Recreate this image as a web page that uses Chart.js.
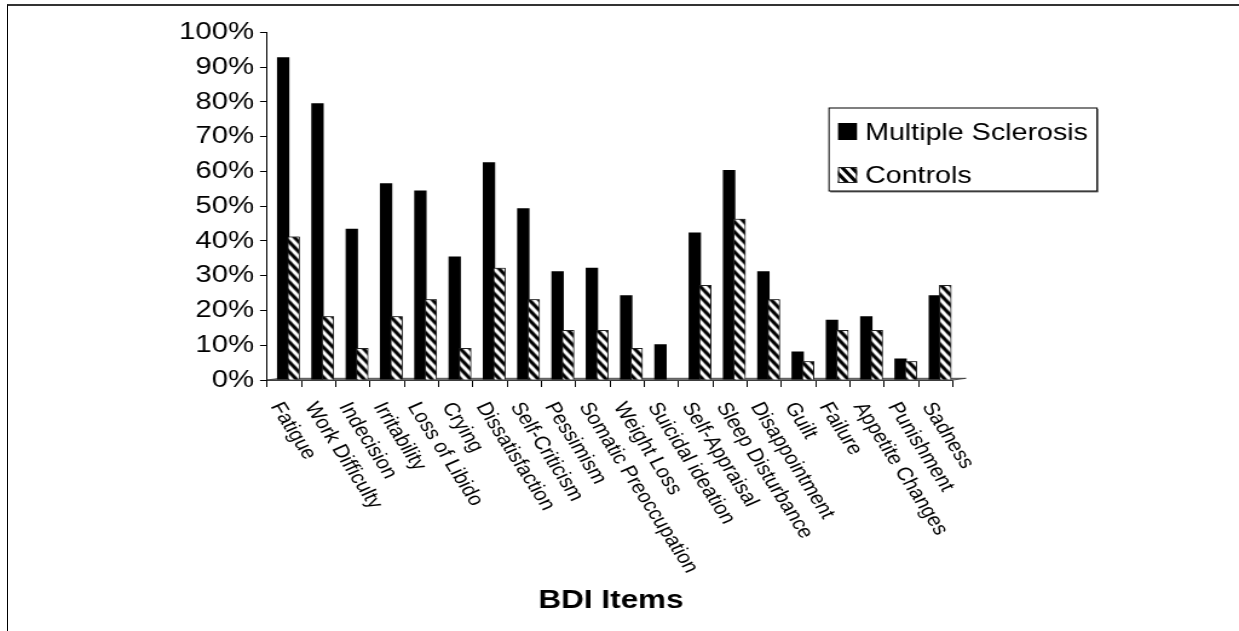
<!DOCTYPE html>
<html>
<head>
<meta charset="utf-8">
<title>BDI Items</title>
<script src="https://cdn.jsdelivr.net/npm/chart.js@4/dist/chart.umd.min.js"></script>
<style>
  html, body { margin: 0; padding: 0; background: #fff; overflow: hidden; }
  #wrap { position: absolute; left: 0; top: 0; width: 1024px; height: 631px;
          transform: scaleX(1.2099609); transform-origin: 0 0; }
  #edge { position: absolute; left: 7px; top: 4px; right: 0; bottom: 0;
          border-top: 2px solid #333; border-left: 1px solid #000; pointer-events: none; }
</style>
</head>
<body>
<div id="wrap"><canvas id="c" width="1024" height="631" style="width:1024px;height:631px"></canvas></div>
<div id="edge"></div>
<script>
// BDI item labels along the category axis
const categories = [
  'Fatigue', 'Work Difficulty', 'Indecision', 'Irritability', 'Loss of Libido',
  'Crying', 'Dissatisfaction', 'Self-Criticism', 'Pessimism', 'Somatic Preoccupation',
  'Weight Loss', 'Suicidal ideation', 'Self-Appraisal', 'Sleep Disturbance', 'Disappointment',
  'Guilt', 'Failure', 'Appetite Changes', 'Punishment', 'Sadness'
];

// Percent of each group endorsing the item
const msValues      = [92.8, 79.6, 43.5, 56.6, 54.5, 35.5, 62.6, 49.4, 31.3, 32.3,
                       24.4, 10.3, 42.4, 60.4, 31.3, 8.2, 17.3, 18.3, 6.2, 24.4];
const controlValues = [41.3, 18.3, 9.2, 18.3, 23.2, 9.2, 32.3, 23.2, 14.4, 14.4,
                       9.2, 0, 27.3, 46.4, 23.2, 5.4, 14.4, 14.4, 5.4, 27.3];

// Axis ticks
const yTickValues = [0, 10, 20, 30, 40, 50, 60, 70, 80, 90, 100];
const seriesNames = ['Multiple Sclerosis', 'Controls'];
const axisTitle = 'BDI Items';

// The canvas is drawn narrow and widened by CSS; fx maps page x to canvas x.
const SX = 1239 / 1024;
const fx = x => x / SX;
const FONT = '"Liberation Sans", Arial, sans-serif';

const canvas = document.getElementById('c');
const ctx0 = canvas.getContext('2d');

function makeHatch() {
  const w = 8, h = 10, band = 4;
  const t = document.createElement('canvas');
  t.width = w; t.height = h;
  const g = t.getContext('2d');
  g.fillStyle = '#fff';
  g.fillRect(0, 0, w, h);
  g.fillStyle = '#000';
  for (const off of [-w, 0, w]) {
    g.beginPath();
    g.moveTo(off, 0);
    g.lineTo(off + band, 0);
    g.lineTo(off + w + band, h);
    g.lineTo(off + w, h);
    g.closePath();
    g.fill();
  }
  return ctx0.createPattern(t, 'repeat');
}
const hatch = makeHatch();

const BAR_SHIFT = 3.5;   // depth offset of the columns behind the axis ticks

const decor = {
  id: 'decor',
  beforeDatasetsDraw(chart) {
    const ctx = chart.ctx;
    const a = chart.chartArea;
    // thin chart floor
    ctx.save();
    ctx.beginPath();
    ctx.moveTo(a.left, a.bottom);
    ctx.lineTo(a.left + fx(13), a.bottom - 1.7);
    ctx.lineTo(a.right + fx(13), a.bottom - 1.7);
    ctx.lineTo(a.right, a.bottom);
    ctx.closePath();
    ctx.fillStyle = '#999';
    ctx.fill();
    ctx.strokeStyle = '#333';
    ctx.lineWidth = 0.8;
    ctx.stroke();
    ctx.restore();
    ctx.save();
    ctx.translate(BAR_SHIFT, 0);
  },
  afterDatasetsDraw(chart) {
    // hatched columns sit in front of the solid ones
    chart.getDatasetMeta(1).controller.draw();
    chart.ctx.restore();
  },
  afterDraw(chart) {
    const ctx = chart.ctx;
    const xs = chart.scales.x;
    ctx.save();

    // rotated category labels
    const fs = 18.5;
    ctx.font = fs + 'px ' + FONT;
    ctx.fillStyle = '#000';
    ctx.textAlign = 'left';
    ctx.textBaseline = 'alphabetic';
    const ang = 62 * Math.PI / 180;
    categories.forEach((lab, i) => {
      const x = xs.getPixelForValue(i);
      ctx.save();
      ctx.translate(x, 400);
      ctx.rotate(ang);
      ctx.fillText(lab, 0, fs * 0.716);
      ctx.restore();
    });

    // axis title
    ctx.font = 'bold 26px ' + FONT;
    ctx.textAlign = 'center';
    ctx.fillText(axisTitle, fx(611), 608);

    // legend
    const L = fx(829), R = fx(1097), T = 108, B = 191;
    ctx.fillStyle = '#777';
    ctx.fillRect(L + 1, B, R - L, 1.5);
    ctx.fillRect(R, T + 1, 1.2, B - T);
    ctx.fillStyle = '#fff';
    ctx.fillRect(L, T, R - L, B - T);
    ctx.strokeStyle = '#000';
    ctx.lineWidth = 1;
    ctx.strokeRect(L, T, R - L, B - T);

    ctx.fillStyle = '#000';
    ctx.fillRect(fx(838), 123, fx(857) - fx(838), 17);
    ctx.fillStyle = hatch;
    ctx.fillRect(fx(838), 167, fx(857) - fx(838), 16);
    ctx.strokeStyle = '#222';
    ctx.strokeRect(fx(838) + 0.5, 167.5, fx(857) - fx(838) - 1, 15);

    ctx.fillStyle = '#000';
    ctx.font = '23.7px ' + FONT;
    ctx.textAlign = 'left';
    ctx.fillText(seriesNames[0], fx(865), 139.5);
    ctx.fillText(seriesNames[1], fx(865), 183);
    ctx.restore();
  }
};

new Chart(canvas, {
  type: 'bar',
  data: {
    labels: categories,
    datasets: [
      {
        label: seriesNames[0],
        data: msValues,
        backgroundColor: '#000',
        borderWidth: 0,
        categoryPercentage: 0.607,
        barPercentage: 1.19
      },
      {
        label: seriesNames[1],
        data: controlValues,
        backgroundColor: hatch,
        borderColor: '#222',
        borderWidth: 1,
        categoryPercentage: 0.607,
        barPercentage: 1.19
      }
    ]
  },
  options: {
    responsive: false,
    animation: false,
    events: [],
    layout: { padding: { top: 32.3, right: 1024 - fx(953), left: 0, bottom: 0 } },
    plugins: { legend: { display: false }, tooltip: { enabled: false }, title: { display: false } },
    scales: {
      x: {
        type: 'category',
        offset: true,
        grid: { offset: true, drawOnChartArea: false, drawTicks: true, tickLength: 7, color: '#000', lineWidth: 1 },
        border: { display: true, color: '#444', width: 1 },
        ticks: { display: false },
        afterFit(s) { s.height = 631 - 380; }
      },
      y: {
        min: 0,
        max: 100,
        afterBuildTicks(s) { s.ticks = yTickValues.map(v => ({ value: v })); },
        ticks: {
          callback: v => v + '%',
          color: '#000',
          padding: fx(6),
          font: { family: FONT, size: 24.2 }
        },
        grid: { drawOnChartArea: false, drawTicks: true, tickLength: fx(7), color: '#000', lineWidth: 1 },
        border: { display: true, color: '#000', width: 1 },
        afterFit(s) { s.width = fx(267); }
      }
    }
  },
  plugins: [decor]
});
</script>
</body>
</html>
